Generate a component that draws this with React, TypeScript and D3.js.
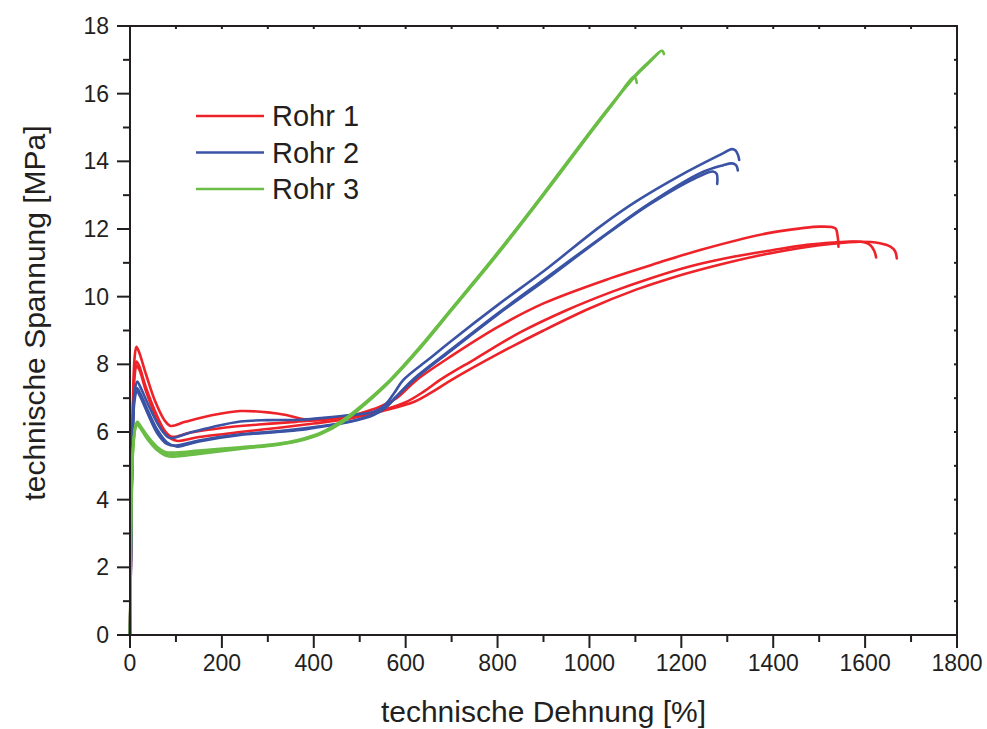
import React from "react";
import * as d3 from "d3";

// Stress–strain curves of three pipe samples (several specimens each)
// strain [%], stress [MPa]

const rohr1a: [number, number][] = [
  [0, 0], [2, 2.5], [4, 5], [7, 7.2], [10, 8.2], [14, 8.52], [20, 8.35], [35, 7.7], [55, 6.9], [75, 6.35],
  [88, 6.18], [120, 6.3], [180, 6.5], [240, 6.62], [300, 6.58], [340, 6.5], [370, 6.4], [400, 6.35],
  [450, 6.4], [500, 6.55], [544, 6.75], [580, 7.0], [624, 7.54], [700, 8.25], [800, 9.1], [900, 9.8],
  [1045, 10.54], [1150, 11.0], [1241, 11.38], [1386, 11.87], [1460, 12.02], [1502, 12.07], [1535, 12.02],
  [1540, 11.8], [1542, 11.48],
];
const rohr1b: [number, number][] = [
  [0, 0], [2, 2.4], [4, 4.8], [7, 6.9], [10, 7.8], [14, 8.08], [20, 7.95], [35, 7.3], [55, 6.6], [75, 6.05],
  [91, 5.86], [130, 5.98], [200, 6.12], [280, 6.22], [360, 6.3], [430, 6.38], [500, 6.5], [550, 6.65],
  [600, 6.88], [640, 7.2], [675, 7.54], [750, 8.15], [850, 8.95], [950, 9.6], [1050, 10.15], [1132, 10.54],
  [1220, 10.9], [1313, 11.18], [1400, 11.38], [1473, 11.53], [1530, 11.6], [1574, 11.63], [1600, 11.6],
  [1611, 11.53], [1620, 11.35], [1624, 11.16],
];
const rohr1c: [number, number][] = [
  [0, 0], [2, 2.3], [4, 4.7], [7, 6.8], [10, 7.65], [14, 7.95], [20, 7.85], [35, 7.2], [55, 6.5], [80, 5.9],
  [101, 5.74], [150, 5.85], [240, 6.0], [320, 6.12], [400, 6.25], [480, 6.4], [550, 6.62], [620, 6.9],
  [660, 7.2], [700, 7.54], [800, 8.3], [900, 9.0], [1000, 9.65], [1100, 10.2], [1175, 10.54], [1300, 11.0],
  [1400, 11.3], [1500, 11.52], [1580, 11.62], [1632, 11.58], [1655, 11.48], [1665, 11.35], [1669, 11.13],
];

const rohr2a: [number, number][] = [
  [0, 0], [2, 2.3], [4, 4.6], [7, 6.5], [10, 7.2], [16, 7.49], [22, 7.35], [40, 6.8], [60, 6.25], [75, 5.95],
  [87, 5.82], [130, 5.98], [180, 6.15], [240, 6.31], [300, 6.35], [370, 6.36], [414, 6.41], [480, 6.5],
  [530, 6.6], [555, 6.8], [575, 7.15], [595, 7.54], [650, 8.15], [700, 8.7], [800, 9.75], [900, 10.75],
  [1023, 12.07], [1100, 12.8], [1200, 13.6], [1284, 14.19], [1310, 14.36], [1318, 14.32], [1323, 14.2],
  [1326, 14.04],
];
const rohr2b: [number, number][] = [
  [0, 0], [2, 2.2], [4, 4.5], [7, 6.4], [10, 7.05], [15, 7.3], [22, 7.15], [40, 6.6], [60, 6.05], [80, 5.7],
  [101, 5.57], [150, 5.72], [240, 5.91], [320, 6.0], [370, 6.06], [414, 6.15], [480, 6.3], [530, 6.5],
  [555, 6.7], [580, 7.05], [615, 7.54], [700, 8.45], [800, 9.5], [900, 10.5], [1023, 11.72], [1130, 12.75],
  [1241, 13.65], [1290, 13.88], [1310, 13.94], [1318, 13.9], [1321, 13.84], [1323, 13.73],
];
const rohr2c: [number, number][] = [
  [0, 0], [2, 2.2], [4, 4.4], [7, 6.3], [10, 6.95], [15, 7.2], [22, 7.05], [40, 6.5], [60, 5.95], [80, 5.65],
  [100, 5.6], [150, 5.75], [240, 5.93], [320, 6.02], [414, 6.17], [480, 6.32], [530, 6.52], [555, 6.72],
  [580, 7.05], [618, 7.54], [700, 8.42], [800, 9.47], [900, 10.45], [1023, 11.7], [1130, 12.72],
  [1230, 13.5], [1269, 13.7], [1277, 13.63], [1278, 13.33],
];

const rohr3a: [number, number][] = [
  [0, 0], [1, 1.5], [2, 3], [3, 4.1], [5, 5.1], [8, 5.8], [12, 6.2], [16, 6.3], [22, 6.2], [40, 5.85],
  [60, 5.55], [75, 5.42], [91, 5.39], [150, 5.45], [240, 5.55], [320, 5.65], [370, 5.78], [414, 5.97],
  [464, 6.36], [510, 6.85], [566, 7.54], [630, 8.5], [700, 9.65], [800, 11.3], [900, 13.05], [1000, 14.85],
  [1050, 15.72], [1100, 16.55], [1130, 16.95], [1157, 17.27], [1160, 17.25], [1162, 17.17],
];
const rohr3b: [number, number][] = [
  [0, 0], [1, 1.4], [2, 2.9], [3, 4.0], [5, 5.0], [8, 5.7], [12, 6.12], [16, 6.22], [22, 6.12], [40, 5.75],
  [60, 5.45], [78, 5.3], [94, 5.27], [150, 5.35], [240, 5.5], [320, 5.62], [370, 5.74], [414, 5.93],
  [464, 6.3], [510, 6.8], [566, 7.5], [630, 8.45], [700, 9.6], [800, 11.25], [900, 13.0], [1000, 14.8],
  [1050, 15.68], [1096, 16.5], [1100, 16.46], [1103, 16.32],
];
const rohr3c: [number, number][] = [
  [0, 0], [1, 1.45], [2, 2.95], [3, 4.05], [5, 5.05], [8, 5.75], [12, 6.15], [16, 6.26], [22, 6.15],
  [40, 5.8], [60, 5.5], [78, 5.36], [92, 5.33], [150, 5.4], [240, 5.52], [320, 5.63], [370, 5.76],
  [414, 5.95], [464, 6.33], [510, 6.83], [566, 7.52], [630, 8.48], [700, 9.62], [800, 11.28], [900, 13.02],
  [1000, 14.82], [1050, 15.7], [1100, 16.52], [1130, 16.92], [1150, 17.2],
];

const seriesNames = ["Rohr 1", "Rohr 2", "Rohr 3"];
const seriesColors = ["#ee2229", "#3a53a4", "#6abd45"];
const specimens = [
  [rohr1a, rohr1b, rohr1c],
  [rohr2a, rohr2b, rohr2c],
  [rohr3a, rohr3b, rohr3c],
];

const xTicks = [0, 200, 400, 600, 800, 1000, 1200, 1400, 1600, 1800];
const yTicks = [0, 2, 4, 6, 8, 10, 12, 14, 16, 18];
const xTitle = "technische Dehnung [%]";
const yTitle = "technische Spannung [MPa]";

const W = 987;
const H = 729;
const left = 130;
const right = 957;
const top = 26;
const bottom = 635;

export default function App() {
  const x = d3.scaleLinear().domain([0, 1800]).range([left, right]);
  const y = d3.scaleLinear().domain([0, 18]).range([bottom, top]);
  const line = d3
    .line<[number, number]>()
    .x((d) => x(d[0]))
    .y((d) => y(d[1]))
    .curve(d3.curveCatmullRom.alpha(0.5));

  const xMinor = d3.range(0, 1801, 100);
  const yMinor = d3.range(0, 18.01, 1);
  const axisColor = "#231f20";
  const font = "'Liberation Sans', Arial, Helvetica, sans-serif";

  return (
    <svg
      width={W}
      height={H}
      viewBox={`0 0 ${W} ${H}`}
      style={{ position: "absolute", left: 0, top: 0, background: "#fff" }}
    >
      <rect x={0} y={0} width={W} height={H} fill="#fff" />

      {/* curves */}
      <g fill="none" strokeWidth={2.6} strokeLinejoin="round" strokeLinecap="round">
        {specimens.map((group, i) =>
          group.map((data, j) => (
            <path key={`${i}-${j}`} d={line(data) ?? ""} stroke={seriesColors[i]} />
          ))
        )}
      </g>

      {/* frame */}
      <rect
        x={left}
        y={top}
        width={right - left}
        height={bottom - top}
        fill="none"
        stroke={axisColor}
        strokeWidth={2}
      />

      {/* bottom/left outward ticks, top/right short inward ticks */}
      <g stroke={axisColor} strokeWidth={2}>
        {xMinor.map((v) => {
          const major = v % 200 === 0;
          return (
            <g key={`xt${v}`}>
              <line x1={x(v)} x2={x(v)} y1={bottom} y2={bottom + (major ? 13 : 7)} />
              <line x1={x(v)} x2={x(v)} y1={top} y2={top + 3} />
            </g>
          );
        })}
        {yMinor.map((v) => {
          const major = v % 2 === 0;
          return (
            <g key={`yt${v}`}>
              <line x1={left} x2={left - (major ? 13 : 7)} y1={y(v)} y2={y(v)} />
              <line x1={right} x2={right - 3} y1={y(v)} y2={y(v)} />
            </g>
          );
        })}
      </g>

      {/* tick labels */}
      <g fontFamily={font} fontSize={23} fill="#231f20">
        {xTicks.map((v) => (
          <text key={`xl${v}`} x={x(v)} y={671} textAnchor="middle">
            {v}
          </text>
        ))}
        {yTicks.map((v) => (
          <text key={`yl${v}`} x={109} y={y(v) + 8} textAnchor="end">
            {v}
          </text>
        ))}
      </g>

      {/* axis titles */}
      <text
        x={(left + right) / 2}
        y={722}
        textAnchor="middle"
        fontFamily={font}
        fontSize={30}
        fill="#231f20"
      >
        {xTitle}
      </text>
      <text
        transform={`translate(45, 313) rotate(-90)`}
        textAnchor="middle"
        fontFamily={font}
        fontSize={30}
        fill="#231f20"
      >
        {yTitle}
      </text>

      {/* legend */}
      <g fontFamily={font} fontSize={29} fill="#231f20">
        {seriesNames.map((name, i) => {
          const ly = 116 + i * 36.5;
          return (
            <g key={name}>
              <line x1={196} x2={264} y1={ly} y2={ly} stroke={seriesColors[i]} strokeWidth={2.6} />
              <text x={272} y={ly + 10}>
                {name}
              </text>
            </g>
          );
        })}
      </g>
    </svg>
  );
}
